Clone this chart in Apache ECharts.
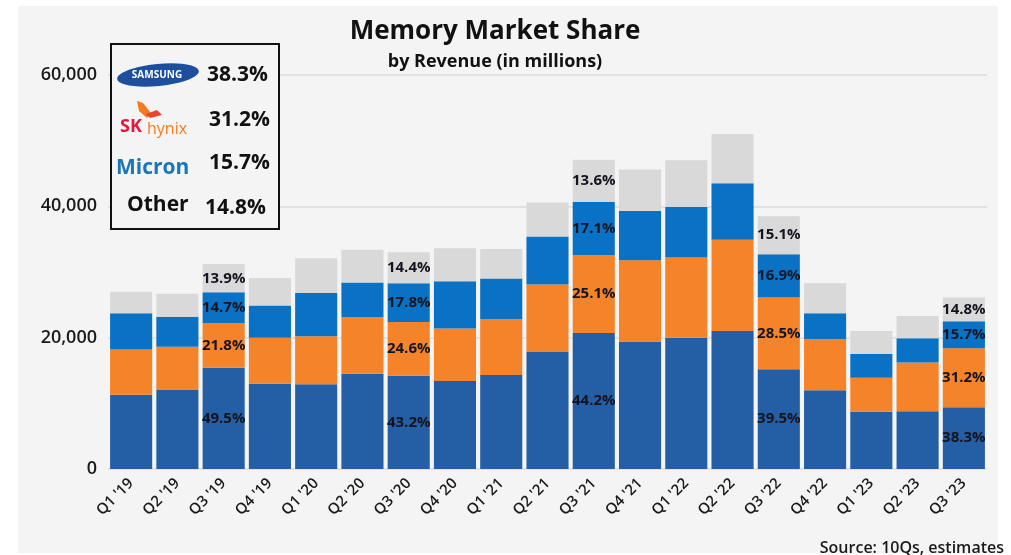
<!DOCTYPE html>
<html>
<head>
<meta charset="utf-8">
<script src="https://cdn.jsdelivr.net/npm/echarts@6/dist/echarts.min.js"></script>
<style>
  html, body { margin: 0; padding: 0; background: #fff; }
  #chart { width: 1011px; height: 555px; }
</style>
</head>
<body>
<div id="chart"></div>
<script>
const quarters = ["Q1 '19", "Q2 '19", "Q3 '19", "Q4 '19", "Q1 '20", "Q2 '20", "Q3 '20", "Q4 '20",
  "Q1 '21", "Q2 '21", "Q3 '21", "Q4 '21", "Q1 '22", "Q2 '22", "Q3 '22", "Q4 '22",
  "Q1 '23", "Q2 '23", "Q3 '23"];

// revenue in millions
const samsung = [11300, 12100, 15400, 13000, 12900, 14500, 14200, 13400, 14300, 17800,
  20700, 19400, 20000, 21000, 15200, 12000, 8700, 8800, 9400];
const hynix = [6900, 6500, 6800, 7000, 7300, 8600, 8200, 8000, 8500, 10300,
  11900, 12400, 12200, 13900, 10900, 7800, 5200, 7400, 9000];
const micron = [5500, 4600, 4700, 4900, 6600, 5300, 5900, 7200, 6200, 7300,
  8100, 7500, 7700, 8600, 6600, 3900, 3600, 3700, 4100];
const other = [3300, 3500, 4300, 4200, 5300, 5000, 4700, 5000, 4500, 5200,
  6400, 6300, 7100, 7500, 5800, 4600, 3500, 3400, 3600];

// share labels shown on the Q3 bars only
const samsungPct = ['', '', '49.5%', '', '', '', '43.2%', '', '', '', '44.2%', '', '', '', '39.5%', '', '', '', '38.3%'];
const hynixPct = ['', '', '21.8%', '', '', '', '24.6%', '', '', '', '25.1%', '', '', '', '28.5%', '', '', '', '31.2%'];
const micronPct = ['', '', '14.7%', '', '', '', '17.8%', '', '', '', '17.1%', '', '', '', '16.9%', '', '', '', '15.7%'];
const otherPct = ['', '', '13.9%', '', '', '', '14.4%', '', '', '', '13.6%', '', '', '', '15.1%', '', '', '', '14.8%'];

const FONT = '"Open Sans", "Noto Sans", sans-serif';

const chart = echarts.init(document.getElementById('chart'));

function makeSeries(name, data, color, pct) {
  return {
    name: name,
    type: 'bar',
    stack: 'total',
    data: data,
    barCategoryGap: '9%',
    itemStyle: { color: color },
    label: {
      show: true,
      position: 'inside',
      formatter: (p) => pct[p.dataIndex],
      color: '#14141f',
      fontFamily: FONT,
      fontWeight: 'bold',
      fontSize: 15
    }
  };
}

const txt = (text, x, y, size, color, align, weight) => ({
  type: 'text',
  z: 101,
  style: {
    text: text, x: x, y: y,
    fill: color,
    font: (weight || 'bold') + ' ' + size + 'px ' + FONT,
    textAlign: align || 'left',
    textVerticalAlign: 'middle'
  }
});

chart.setOption({
  backgroundColor: '#ffffff',
  animation: false,
  grid: { left: 108, right: 24, top: 75, bottom: 86 },
  xAxis: {
    type: 'category',
    data: quarters,
    axisLine: { show: false },
    axisTick: { show: false },
    axisLabel: {
      rotate: 45,
      margin: 12,
      color: '#1a1a1a',
      fontFamily: FONT,
      fontWeight: 600,
      fontSize: 15
    }
  },
  yAxis: {
    type: 'value',
    min: 0,
    max: 60000,
    interval: 20000,
    axisLine: { show: false },
    axisTick: { show: false },
    axisLabel: {
      margin: 11,
      color: '#1a1a1a',
      fontFamily: FONT,
      fontWeight: 600,
      fontSize: 18
    },
    splitLine: { lineStyle: { color: '#dcdcdc', width: 1.5 } }
  },
  series: [
    makeSeries('Samsung', samsung, '#245fa6', samsungPct),
    makeSeries('SK Hynix', hynix, '#f5832a', hynixPct),
    makeSeries('Micron', micron, '#0a72c5', micronPct),
    makeSeries('Other', other, '#d9d9d9', otherPct)
  ],
  graphic: [
    { type: 'rect', z: -10, shape: { x: 18, y: 6, width: 980, height: 547 }, style: { fill: '#f4f4f4' } },
    txt('Memory Market Share', 495, 32, 26, '#111', 'center'),
    txt('by Revenue (in millions)', 495, 62, 18, '#111', 'center'),
    txt('Source: 10Qs, estimates', 1004, 548, 16, '#1a1a1a', 'right', 600),

    // share box
    { type: 'rect', z: 100, shape: { x: 111, y: 44, width: 168, height: 185 },
      style: { fill: '#f4f4f4', stroke: '#111', lineWidth: 2 } },
    { type: 'ellipse', z: 101, x: 158, y: 75, rotation: 0.1,
      shape: { cx: 0, cy: 0, rx: 41, ry: 11 }, style: { fill: '#1d4f9c' } },
    txt('SAMSUNG', 157, 75, 10, '#fff', 'center'),
    txt('38.3%', 207, 75, 21, '#111'),
    { type: 'polygon', z: 101, shape: { points: [[137, 101], [143, 103], [151, 113], [147, 118], [139, 111]] },
      style: { fill: '#f47b20' } },
    { type: 'polygon', z: 101, shape: { points: [[146, 114], [157, 110], [162, 115], [150, 118]] },
      style: { fill: '#e8442f' } },
    txt('SK', 120, 127, 18, '#e2173a'),
    txt('hynix', 147, 129, 16, '#f47b20', 'left', 'normal'),
    txt('31.2%', 209, 120, 21, '#111'),
    txt('Micron', 116, 168, 21, '#1a75bc'),
    txt('15.7%', 209, 163, 21, '#111'),
    txt('Other', 127, 205, 21, '#111'),
    txt('14.8%', 205, 208, 21, '#111')
  ]
});
</script>
</body>
</html>
